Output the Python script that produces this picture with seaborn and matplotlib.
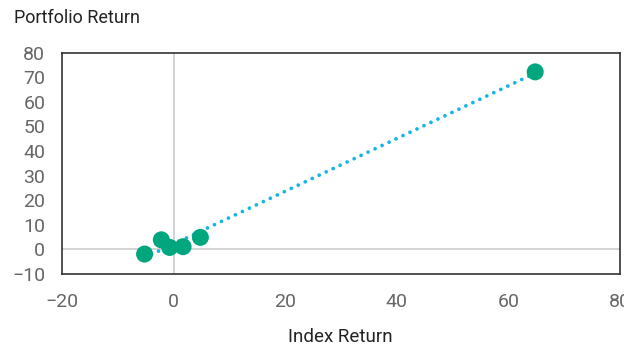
import numpy as np
import matplotlib
matplotlib.use('Agg')
import matplotlib.pyplot as plt
import seaborn as sns
import pandas as pd

# index vs portfolio returns (%)
index_ret = [-5.2, -2.2, -0.7, 1.7, 4.8, 64.8]
port_ret = [-1.9, 3.9, 0.8, 1.1, 4.9, 72.2]
x_ticks = [-20, 0, 20, 40, 60, 80]
y_ticks = [-10, 0, 10, 20, 30, 40, 50, 60, 70, 80]

df = pd.DataFrame({'Index Return': index_ret, 'Portfolio Return': port_ret})

sns.set_style('white')
plt.rcParams['font.family'] = ['Roboto', 'DejaVu Sans']

fig = plt.figure(figsize=(6.24, 3.47), dpi=100)
ax = fig.add_axes([62 / 624, 1 - 274 / 347, 558 / 624, (274 - 52.7) / 347])

# zero lines
ax.axhline(0, color='#cccccc', lw=1.2, zorder=1)
ax.axvline(0, color='#cccccc', lw=1.2, zorder=1)

# linear trendline over the data range
slope, icpt = np.polyfit(df['Index Return'], df['Portfolio Return'], 1)
xs = np.array([df['Index Return'].min(), df['Index Return'].max()])
ax.plot(xs, slope * xs + icpt, color='#12b5e6', lw=2.7, ls=(0, (0.01, 2.05)),
        dash_capstyle='round', zorder=2)

sns.scatterplot(data=df, x='Index Return', y='Portfolio Return', ax=ax,
                color='#00a67e', s=150, edgecolor='none', zorder=3)

ax.set_xlim(-20, 80)
ax.set_ylim(-10, 80)
ax.set_xticks(x_ticks)
ax.set_yticks(y_ticks)
ax.tick_params(direction='in', length=5, width=1, color='#333333',
               labelcolor='#666666', labelsize=14, pad=14)
ax.tick_params(axis='y', pad=12)
ax.set_xticklabels([str(t).replace('-', '\u2212') for t in x_ticks])
ax.set_yticklabels([str(t).replace('-', '\u2212') for t in y_ticks])
for s in ax.spines.values():
    s.set_color('#333333')
    s.set_linewidth(1.2)

ax.set_xlabel('')
ax.set_ylabel('')
fig.text(14 / 624, 1 - 18 / 347, 'Portfolio Return', fontsize=13,
         color='#222222', ha='left', va='center')
fig.text(340 / 624, 1 - 337 / 347, 'Index Return', fontsize=13.5,
         color='#222222', ha='center', va='center')

fig.savefig('out.png', dpi=100)
